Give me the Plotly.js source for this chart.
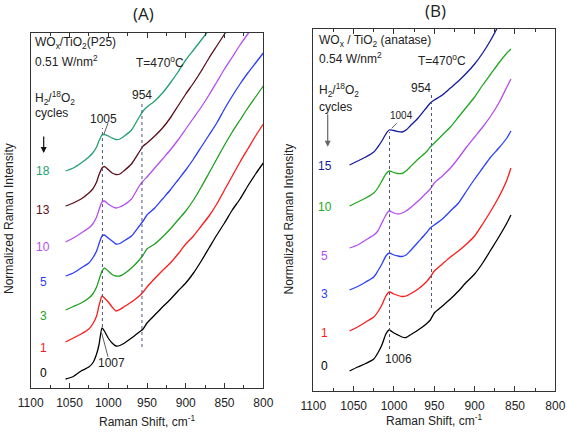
<!DOCTYPE html>
<html>
<head>
<meta charset="utf-8">
<script src="https://cdn.plot.ly/plotly-3.0.1.min.js"></script>
<style>html,body{margin:0;padding:0;background:#fff;}#chart{width:567px;height:434px;}</style>
</head>
<body>
<div id="chart"></div>
<script>
// ---------- DATA (Raman shift in cm-1, normalized intensity in arbitrary units) ----------
const shiftA = [1055,1045,1035,1025,1020,1015,1012,1008,1005,1000,995,990,985,980,970,960,955,950,940,930,920,910,900,890,880,870,860,850,840,830,820,810,800];
const cyclesA = ["0","1","3","5","10","13","18"];
const a0  = [9,11.5,17,21,25,34,43,60,57,50,45,42,42.5,44.5,50,56,59,65,73,81,88.5,97,105,115,127,140,153,165,178,189,202,214,225];
const a1  = [46,50,54,59,64,72,82,92,90,86,81,77,78.5,81,86,92,96,101,109.5,117.5,125,134,144,152,162,172,184,198,212,226,239,252,264];
const a3  = [78,81.5,85,90,94,101,108,117,120,117,113.5,112,112,114,120,128,133,139,144,151,159,168,177,188,201,215,229,243,256,268,280,291,302];
const a5  = [112,115,120,125,130,137,144,152,153,150,147,144,144.5,147,152,162,167,173,180,189,198,208,218,229,241,253,265,279,292,304,315,325,335];
const a10 = [146,150,155,160,164,171,178,186,187,184,181.5,180,181,183,189,202,207,211,220,229,238,248,259,270,281,293,306,319,331,343,354,364,374];
const a13 = [182,185,189,195,199,206,213,220,221.5,218.5,215,213.5,214,217,224,236,242,245,252,260,270,282,294,305,317,330,342,354,366,378];
const a18 = [217,220,225,231,235,241,247,253,253.5,252,250,248.5,249,251.5,258,271,277,281,287,295,305,316,328,338,348,358,368];
const peaksA = [1007.5, 956.5];

const shiftB = [1055,1045,1035,1025,1020,1015,1010,1006,1000,995,990,985,980,970,960,955,950,940,930,920,910,900,890,880,870,860,855];
const cyclesB = ["0","1","3","5","10","15"];
const b0  = [20,24,27.5,32,38,46,57,61,58,56,54,53.5,56,61,67,71,78,85,92,100,109,117,128,141,154,168,176];
const b1  = [60,64,69,74,79,86,95,99,97,95.5,94.5,95,97,102,109,114,120,127,134,140,147,155,167,180,194,211,223];
const b3  = [101,104.5,109,114,120,127,135,138,136,135,134.5,136,140,149,158,163,166,172,180,188,200,212,223,234,243,253,260];
const b5  = [143,146,151,156,160,168,176,180,178,177,178,180,183,190,198,202,208,215,223,233,244,254,264,275,288,304,312];
const b10 = [185,189,193,198,203,210,217,220,218.5,217.5,217.5,220,224,232,239,244,248,256,264,274,284,294,306,317,328,338,342];
const b15 = [226,230,234,239,244,250,257,261,260.5,259.5,259,261,265,273,283,288,291,296,303,310,318,327,338,351,366];
const peaksB = [1005.5, 953.5];

// ---------- STYLE ----------
const W = 567, H = 434;
const F = "Liberation Sans, Arial, sans-serif";
const colA = {"0":"#000000","1":"#ff1a1a","3":"#1ea01e","5":"#2a3cff","10":"#b44ef0","13":"#5c0f1a","18":"#22a070"};
const colB = {"0":"#000000","1":"#ff1a1a","3":"#2a40ff","5":"#b44ef0","10":"#22a822","15":"#151b9c"};

const seriesA = {"0":a0,"1":a1,"3":a3,"5":a5,"10":a10,"13":a13,"18":a18};
const seriesB = {"0":b0,"1":b1,"3":b3,"5":b5,"10":b10,"15":b15};

const traces = [];
cyclesA.forEach(c => {
  const y = seriesA[c];
  traces.push({x: shiftA.slice(0, y.length), y: y, xaxis:'x', yaxis:'y', type:'scatter', mode:'lines',
    line:{color: colA[c], width:1.3, shape:'spline', smoothing:0.6}, hoverinfo:'skip', showlegend:false});
});
cyclesB.forEach(c => {
  const y = seriesB[c];
  traces.push({x: shiftB.slice(0, y.length), y: y, xaxis:'x2', yaxis:'y2', type:'scatter', mode:'lines',
    line:{color: colB[c], width:1.3, shape:'spline', smoothing:0.6}, hoverinfo:'skip', showlegend:false});
});

const P = (x, y) => ({x: x / W, y: 1 - y / H, xref:'paper', yref:'paper'});
function txt(t, x, y, o) {
  return Object.assign({text:t, showarrow:false, font:{family:F, size:12, color:'#222'},
    xanchor:'center', yanchor:'middle'}, P(x, y), o || {});
}
function arrow(x, yHead, len, color) {
  return Object.assign({text:'', showarrow:true, ax:0, ay:-len, arrowhead:2, arrowsize:1,
    arrowwidth:1.2, arrowcolor:color}, P(x, yHead));
}
function pline(x0, y0, x1, y1) {
  return {type:'line', xref:'paper', yref:'paper', x0:x0/W, y0:1-y0/H, x1:x1/W, y1:1-y1/H,
    line:{color:'#333', width:0.8}};
}
function vdot(xr, yr, xv, y0, y1) {
  return {type:'line', xref:xr, yref:yr, x0:xv, x1:xv, y0:y0, y1:y1,
    line:{color:'#4a5578', width:1, dash:'dot'}};
}

const labelPosA = {"18":171,"13":210,"10":246.7,"5":281.7,"3":315.7,"1":348,"0":373};
const labelPosB = {"15":166,"10":207.5,"5":256,"3":294.3,"1":333.3,"0":365.7};

const annotations = [
  txt('(A)', 143, 14, {font:{family:'Open Sans, sans-serif', size:17, color:'#222'}}),
  txt('(B)', 435, 11, {font:{family:'Open Sans, sans-serif', size:17, color:'#222'}}),
  txt('Normalized Raman Intensity', 9, 219, {textangle:-90}),
  txt('Normalized Raman Intensity', 288.5, 219, {textangle:-90}),
  txt('Raman Shift, cm<sup>-1</sup>', 147, 421),
  txt('Raman Shift, cm<sup>-1</sup>', 434, 420),
  // panel A texts
  txt('WO<sub>x</sub>/TiO<sub>2</sub>(P25)', 33, 43, {xanchor:'left'}),
  txt('0.51 W/nm<sup>2</sup>', 33, 61, {xanchor:'left'}),
  txt('T=470<sup>o</sup>C', 134, 62, {xanchor:'left'}),
  txt('H<sub>2</sub>/<sup>18</sup>O<sub>2</sub>', 33, 98, {xanchor:'left'}),
  txt('cycles', 33, 113, {xanchor:'left'}),
  txt('1005', 103, 118.5),
  txt('954', 142, 95),
  txt('1007', 111.5, 362.7),
  arrow(43.7, 153, 18, '#111'),
  // panel B texts
  txt('WO<sub>x</sub> / TiO<sub>2</sub> (anatase)', 317, 41, {xanchor:'left'}),
  txt('0.54 W/nm<sup>2</sup>', 317, 58.3, {xanchor:'left'}),
  txt('T=470<sup>o</sup>C', 416, 60, {xanchor:'left'}),
  txt('H<sub>2</sub>/<sup>18</sup>O<sub>2</sub>', 317, 90, {xanchor:'left'}),
  txt('cycles', 317, 107, {xanchor:'left'}),
  txt('954', 421, 88),
  txt('1004', 401.7, 115, {font:{family:F, size:10, color:'#222'}}),
  txt('1006', 398.3, 359.3),
  arrow(327.7, 146.7, 34, '#666')
];
cyclesA.forEach(c => annotations.push(txt(c, 43, labelPosA[c], {font:{family:F, size:12, color:colA[c]}})));
cyclesB.forEach(c => annotations.push(txt(c, 324.5, labelPosB[c], {font:{family:F, size:12, color:colB[c]}})));

const shapes = [
  vdot('x', 'y', peaksA[0], 61, 260),
  vdot('x', 'y', peaksA[1], 41, 285),
  vdot('x2', 'y2', peaksB[0], 42, 259),
  vdot('x2', 'y2', peaksB[1], 83, 297),
  pline(108, 123, 104, 134),
  pline(101.7, 333, 108, 356.7),
  pline(396.7, 123.3, 391.7, 128.3)
];

function xax(domain) {
  return {domain: domain, range:[1100, 800], showgrid:false, zeroline:false,
    showline:true, linecolor:'#333', linewidth:1, mirror:'ticks',
    ticks:'inside', ticklen:5, tickwidth:1, tickcolor:'#333', tick0:0, dtick:50,
    minor:{ticks:'inside', ticklen:3, dtick:25, tickcolor:'#333', tickwidth:1},
    ticklabelstandoff:4,
    tickfont:{family:F, size:12, color:'#222'}, fixedrange:true};
}
function yax(domain, top) {
  return {domain: domain, range:[0, top], showgrid:false, zeroline:false,
    showline:true, linecolor:'#333', linewidth:1, mirror:true,
    ticks:'', showticklabels:false, fixedrange:true};
}

const layout = {
  width: W, height: H, margin:{l:0, r:0, t:0, b:0},
  paper_bgcolor:'#fff', plot_bgcolor:'#fff', showlegend:false,
  xaxis: Object.assign(xax([30.7/W, 263.3/W]), {anchor:'y'}),
  yaxis: Object.assign(yax([(H-388)/H, (H-32.7)/H], 355.3), {anchor:'x'}),
  xaxis2: Object.assign(xax([313.3/W, 555.3/W]), {anchor:'y2'}),
  yaxis2: Object.assign(yax([(H-391)/H, (H-28.7)/H], 362.3), {anchor:'x2'}),
  annotations: annotations,
  shapes: shapes
};

Plotly.newPlot('chart', traces, layout, {displayModeBar:false, staticPlot:true});
</script>
</body>
</html>
